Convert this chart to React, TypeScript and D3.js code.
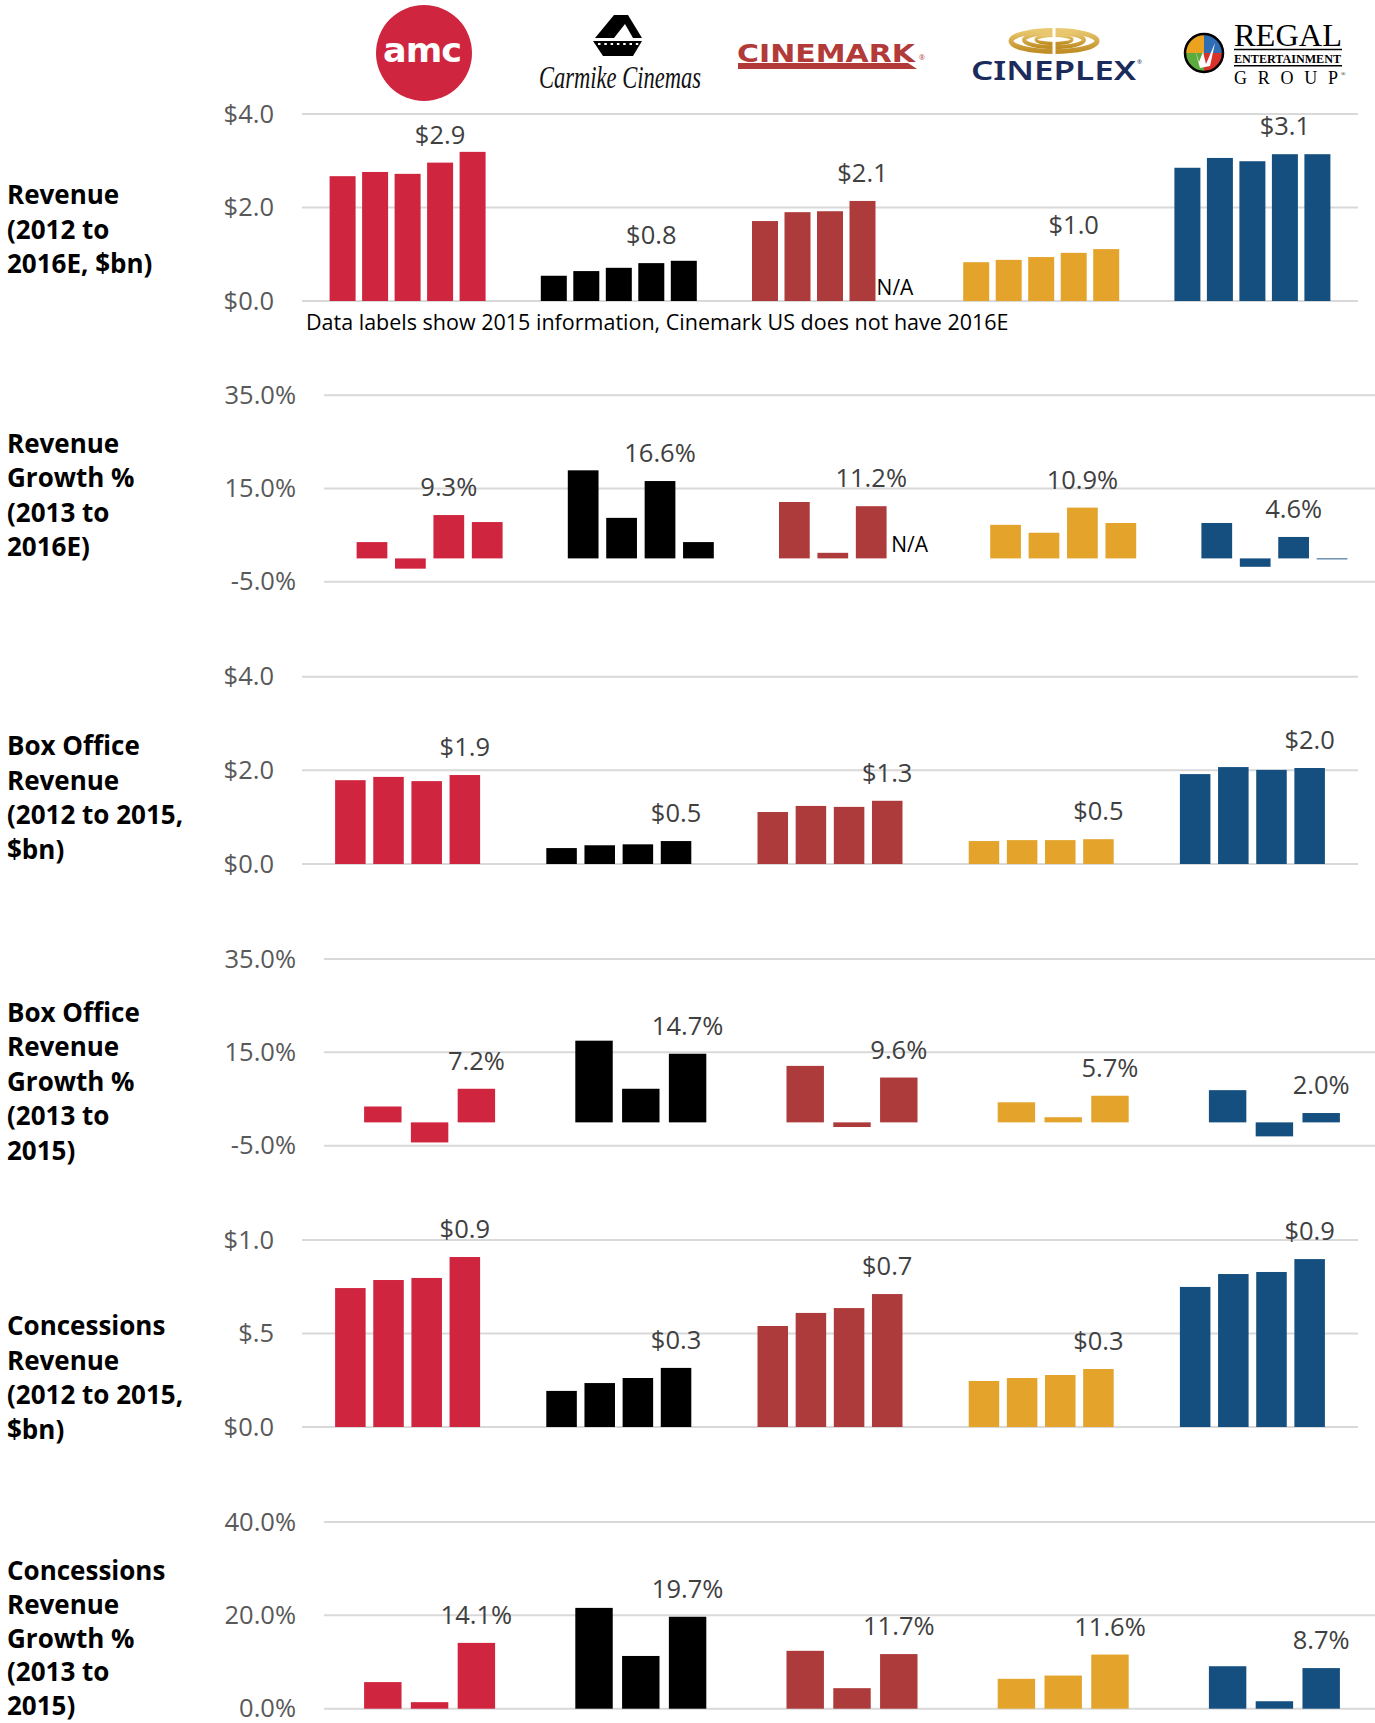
import React from "react";
import * as d3 from "d3";

// ---------- DATA ----------
const companies = ["AMC", "Carmike", "Cinemark", "Cineplex", "Regal"];
const companyColors = ["#D0253F", "#000000", "#AD3B3B", "#E4A42C", "#154F80"];

const revenueYears = ["2012", "2013", "2014", "2015", "2016E"];
const revenueValues: (number | null)[][] = [
  [2.67, 2.76, 2.72, 2.96, 3.19],
  [0.54, 0.64, 0.71, 0.81, 0.86],
  [1.71, 1.9, 1.92, 2.14, null],
  [0.83, 0.88, 0.94, 1.03, 1.11],
  [2.85, 3.06, 2.99, 3.14, 3.14],
];
const revenueLabels = ["$2.9", "$0.8", "$2.1", "$1.0", "$3.1"];
const revenueTicks = [0, 2, 4];
const revenueTickLabels = ["$0.0", "$2.0", "$4.0"];

const revGrowthYears = ["2013", "2014", "2015", "2016E"];
const revGrowthValues: (number | null)[][] = [
  [3.5, -2.2, 9.3, 7.8],
  [18.9, 8.7, 16.6, 3.5],
  [12.1, 1.2, 11.2, null],
  [7.2, 5.5, 10.9, 7.6],
  [7.6, -1.8, 4.6, -0.2],
];
const revGrowthLabels = ["9.3%", "16.6%", "11.2%", "10.9%", "4.6%"];
const growthTicks = [-5, 15, 35];
const growthTickLabels = ["-5.0%", "15.0%", "35.0%"];

const boxYears = ["2012", "2013", "2014", "2015"];
const boxValues: (number | null)[][] = [
  [1.79, 1.86, 1.77, 1.9],
  [0.34, 0.4, 0.42, 0.49],
  [1.11, 1.24, 1.22, 1.35],
  [0.49, 0.51, 0.51, 0.53],
  [1.92, 2.07, 2.01, 2.05],
];
const boxLabels = ["$1.9", "$0.5", "$1.3", "$0.5", "$2.0"];

const growth3Years = ["2013", "2014", "2015"];
const boxGrowthValues: (number | null)[][] = [
  [3.4, -4.3, 7.2],
  [17.5, 7.2, 14.7],
  [12.1, -1.0, 9.6],
  [4.3, 1.1, 5.7],
  [6.9, -3.0, 2.0],
];
const boxGrowthLabels = ["7.2%", "14.7%", "9.6%", "5.7%", "2.0%"];

const concValues: (number | null)[][] = [
  [0.743, 0.786, 0.797, 0.909],
  [0.193, 0.235, 0.262, 0.316],
  [0.54, 0.61, 0.636, 0.711],
  [0.246, 0.262, 0.278, 0.31],
  [0.749, 0.818, 0.829, 0.898],
];
const concLabels = ["$0.9", "$0.3", "$0.7", "$0.3", "$0.9"];
const concTicks = [0, 0.5, 1];
const concTickLabels = ["$0.0", "$.5", "$1.0"];

const concGrowthValues: (number | null)[][] = [
  [5.7, 1.4, 14.1],
  [21.6, 11.3, 19.7],
  [12.4, 4.4, 11.7],
  [6.4, 7.1, 11.6],
  [9.1, 1.6, 8.7],
];
const concGrowthLabels = ["14.1%", "19.7%", "11.7%", "11.6%", "8.7%"];
const concGrowthTicks = [0, 20, 40];
const concGrowthTickLabels = ["0.0%", "20.0%", "40.0%"];

const footnote = "Data labels show 2015 information, Cinemark US does not have 2016E";

// ---------- PANELS ----------
const panels = [
  { title: ["Revenue", "(2012 to", "2016E, $bn)"], years: revenueYears, values: revenueValues, labels: revenueLabels, labelIdx: 3, ticks: revenueTicks, tickLabels: revenueTickLabels },
  { title: ["Revenue", "Growth %", "(2013 to", "2016E)"], years: revGrowthYears, values: revGrowthValues, labels: revGrowthLabels, labelIdx: 2, ticks: growthTicks, tickLabels: growthTickLabels },
  { title: ["Box Office", "Revenue", "(2012 to 2015,", "$bn)"], years: boxYears, values: boxValues, labels: boxLabels, labelIdx: 3, ticks: revenueTicks, tickLabels: revenueTickLabels },
  { title: ["Box Office", "Revenue", "Growth %", "(2013 to", "2015)"], years: growth3Years, values: boxGrowthValues, labels: boxGrowthLabels, labelIdx: 2, ticks: growthTicks, tickLabels: growthTickLabels },
  { title: ["Concessions", "Revenue", "(2012 to 2015,", "$bn)"], years: boxYears, values: concValues, labels: concLabels, labelIdx: 3, ticks: concTicks, tickLabels: concTickLabels },
  { title: ["Concessions", "Revenue", "Growth %", "(2013 to", "2015)"], years: growth3Years, values: concGrowthValues, labels: concGrowthLabels, labelIdx: 2, ticks: concGrowthTicks, tickLabels: concGrowthTickLabels },
];

// layout (positions only)
const layout = [
  { top: 114, bottom: 301, x0: 302, x1: 1358, groupWidth: 156, titleY: 204, lineH: 34.5 },
  { top: 395.3, bottom: 581.7, x0: 324, x1: 1380, groupWidth: 146, titleY: 452.7, lineH: 34.5 },
  { top: 676.7, bottom: 864, x0: 302, x1: 1358, groupWidth: 145, titleY: 755, lineH: 34.5 },
  { top: 959, bottom: 1145.7, x0: 324, x1: 1380, groupWidth: 131, titleY: 1021.7, lineH: 34.5 },
  { top: 1240, bottom: 1427, x0: 302, x1: 1358, groupWidth: 145, titleY: 1335, lineH: 34.5 },
  { top: 1522, bottom: 1708.7, x0: 324, x1: 1380, groupWidth: 131, titleY: 1580, lineH: 33.8 },
];

const FONT = "'Open Sans', 'Noto Sans', sans-serif";

function PanelChart({ p, l }: { p: (typeof panels)[0]; l: (typeof layout)[0] }) {
  const step = (l.x1 - l.x0) / companies.length;
  const pad = 1 - l.groupWidth / step;
  const x = d3.scaleBand<string>().domain(companies).range([l.x0, l.x1]).paddingInner(pad).paddingOuter(pad / 2);
  const inner = d3.scaleBand<string>().domain(p.years).range([0, x.bandwidth()]).paddingInner(0.2);
  const y = d3.scaleLinear().domain([p.ticks[0], p.ticks[p.ticks.length - 1]]).range([l.bottom, l.top]);
  const y0 = y(0);
  return (
    <g>
      {p.title.map((t, i) => (
        <text key={"t" + i} x={7} y={l.titleY + i * l.lineH} fontFamily={FONT} fontWeight={700} fontSize={26} fill="#000">
          {t}
        </text>
      ))}
      {p.ticks.map((t, i) => (
        <g key={"g" + i}>
          <line x1={l.x0} x2={l.x1} y1={y(t)} y2={y(t)} stroke="#D9D9D9" strokeWidth={2} />
          <text x={l.x0 - 28} y={y(t) + 8.5} textAnchor="end" fontFamily={FONT} fontSize={25.5} fill="#595959">
            {p.tickLabels[i]}
          </text>
        </g>
      ))}
      {companies.map((c, ci) => {
        const gx = x(c)!;
        const vals = p.values[ci];
        const lv = vals[p.labelIdx] as number;
        return (
          <g key={c}>
            {vals.map((v, yi) => {
              const bx = gx + inner(p.years[yi])!;
              if (v === null) {
                return (
                  <text key={yi} x={bx + inner.bandwidth() / 2} y={y0 - 6} textAnchor="middle" fontFamily={FONT} fontSize={21} fill="#000">
                    N/A
                  </text>
                );
              }
              return (
                <rect key={yi} x={bx} width={inner.bandwidth()} y={Math.min(y(v), y0)} height={Math.abs(y(v) - y0)} fill={companyColors[ci]} />
              );
            })}
            <text
              x={gx + inner(p.years[p.labelIdx])! + inner.bandwidth() / 2}
              y={y(Math.max(lv, 0)) - 19}
              textAnchor="middle"
              fontFamily={FONT}
              fontSize={25.5}
              fill="#404040"
            >
              {p.labels[ci]}
            </text>
          </g>
        );
      })}
    </g>
  );
}

function Logos() {
  const regalArc = d3.arc<any>().innerRadius(0).outerRadius(19);
  const quad = [
    { s: -Math.PI / 2, e: 0, c: "#EBA21F" },
    { s: 0, e: Math.PI / 2, c: "#2F6DB5" },
    { s: Math.PI / 2, e: Math.PI, c: "#D8322B" },
    { s: Math.PI, e: (3 * Math.PI) / 2, c: "#5DAA3D" },
  ];
  return (
    <g>
      {/* AMC */}
      <circle cx={424} cy={53} r={48} fill="#D0253F" />
      <text x={422} y={62} textAnchor="middle" fontFamily="'DejaVu Sans', sans-serif" fontWeight={700} fontSize={34} fill="#fff" letterSpacing={-1} textLength={78} lengthAdjust="spacingAndGlyphs">
        amc
      </text>
      {/* Carmike */}
      <g>
        <polygon points="595,38 614,15 628,15 642,38" fill="#000" />
        <polygon points="614,38 625,24 633,38" fill="#fff" />
        <polygon points="593,41 642,41 633,56 603,56" fill="#000" />
        {d3.range(7).map((i) => (
          <rect key={i} x={598 + i * 6.3} y={43} width={2.5} height={2} fill="#fff" />
        ))}
        <text x={539} y={88} fontFamily="'Liberation Serif', 'DejaVu Serif', serif" fontStyle="italic" fontSize={31} fill="#111" textLength={162} lengthAdjust="spacingAndGlyphs">
          Carmike Cinemas
        </text>
      </g>
      {/* Cinemark */}
      <g>
        <text x={737} y={62} fontFamily="'DejaVu Sans', sans-serif" fontWeight={700} fontSize={25} fill="#B23A38" textLength={178} lengthAdjust="spacingAndGlyphs">
          CINEMARK
        </text>
        <polygon points="738,63 908,63 917,69 738,69" fill="#B23A38" />
        <text x={919} y={60} fontFamily={FONT} fontSize={7} fill="#B23A38">®</text>
      </g>
      {/* Cineplex */}
      <defs>
        <linearGradient id="gold" x1="0" y1="0" x2="0" y2="1">
          <stop offset="0" stopColor="#E9C870" />
          <stop offset="1" stopColor="#C08E25" />
        </linearGradient>
      </defs>
      <g>
        <ellipse cx={1054} cy={41} rx={43} ry={10.5} fill="none" stroke="url(#gold)" strokeWidth={5} />
        <ellipse cx={1054} cy={40} rx={30} ry={7} fill="none" stroke="url(#gold)" strokeWidth={4} />
        <ellipse cx={1054} cy={39.5} rx={18} ry={4} fill="none" stroke="url(#gold)" strokeWidth={3} />
        <rect x={1052.5} y={26} width={3} height={30} fill="#fff" />
        <text x={971} y={80} fontFamily="'Noto Sans', sans-serif" fontWeight={600} fontSize={27} fill="#1B2B5C" textLength={165} lengthAdjust="spacingAndGlyphs">
          CINEPLEX
        </text>
        <text x={1137} y={64} fontFamily={FONT} fontSize={6} fill="#1B2B5C">®</text>
      </g>
      {/* Regal */}
      <g transform="translate(1204,53)">
        {quad.map((q, i) => (
          <path key={i} d={regalArc({ startAngle: q.s, endAngle: q.e }) || ""} fill={q.c} />
        ))}
        <path d="M-9,-3 L-5,9 L-1,-1 L2,11 L11,-10 L6,13 L-4,15 Z" fill="#fff" />
        <circle r={19} fill="none" stroke="#000" strokeWidth={2.5} />
      </g>
      <g fontFamily="'Liberation Serif', 'DejaVu Serif', serif" fill="#000">
        <text x={1234} y={46} fontSize={31} textLength={108} lengthAdjust="spacingAndGlyphs">REGAL</text>
        <line x1={1234} x2={1342} y1={49.5} y2={49.5} stroke="#000" strokeWidth={1.5} />
        <text x={1234} y={63} fontSize={13} fontWeight={700} textLength={107} lengthAdjust="spacingAndGlyphs">ENTERTAINMENT</text>
        <line x1={1234} x2={1342} y1={65.8} y2={65.8} stroke="#000" strokeWidth={1.5} />
        <text x={1234} y={83.5} fontSize={18} textLength={104} lengthAdjust="spacing">GROUP</text>
        <text x={1341} y={76} fontSize={6}>®</text>
      </g>
    </g>
  );
}

export default function App() {
  return (
    <svg width={1375} height={1723} style={{ position: "absolute", left: 0, top: 0, display: "block", background: "#fff" }}>
      <rect width={1375} height={1723} fill="#fff" />
      <Logos />
      {panels.map((p, i) => (
        <PanelChart key={i} p={p} l={layout[i]} />
      ))}
      <text x={306} y={330} fontFamily={FONT} fontSize={21.5} fill="#000">
        {footnote}
      </text>
    </svg>
  );
}
